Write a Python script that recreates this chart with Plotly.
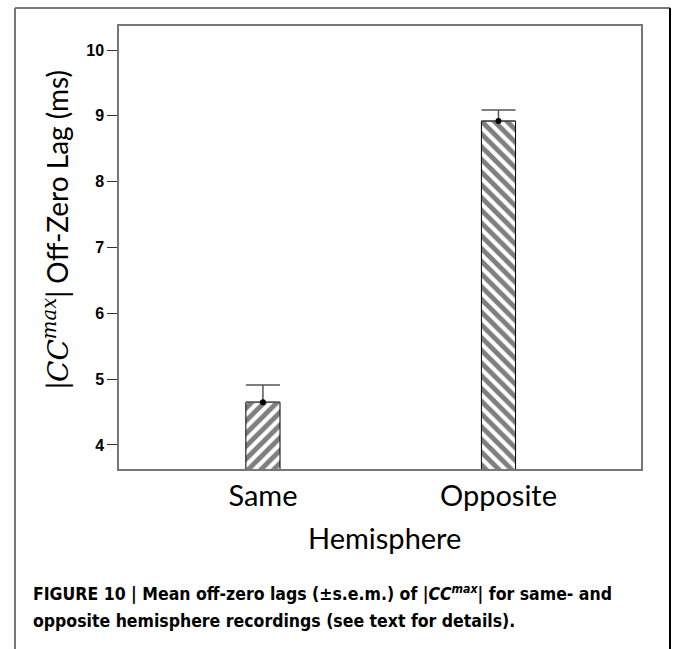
import plotly.graph_objects as go

categories = ["Same", "Opposite"]
x_pos = [0, 1]
means = [4.65, 8.92]
sem = [0.26, 0.17]
patterns = ["/", "\\"]
y_ticks = [4, 5, 6, 7, 8, 9, 10]

W, H = 673, 649
L, R, T, B = 119, 641, 26, 469
pw, ph = R - L, B - T

def px(x):
    return (x - L) / pw

def py(y):
    return (B - y) / ph

fig = go.Figure()
fig.add_trace(go.Bar(
    x=x_pos, y=means, width=0.145,
    marker=dict(color="white", line=dict(color="black", width=1),
                pattern=dict(shape=patterns, fgcolor="black", bgcolor="white",
                             size=9, solidity=0.55)),
    error_y=dict(type="data", symmetric=False, array=sem, arrayminus=[0, 0],
                 color="#555555", thickness=1.5, width=17),
    showlegend=False, hoverinfo="skip",
))
fig.add_trace(go.Scatter(
    x=x_pos, y=means, mode="markers",
    marker=dict(color="black", size=6), showlegend=False, hoverinfo="skip",
))

fig.update_layout(
    width=W, height=H, margin=dict(l=L, r=W - R, t=T, b=H - B),
    paper_bgcolor="white", plot_bgcolor="white",
    xaxis=dict(range=[-0.611, 1.605], tickvals=x_pos, ticktext=categories,
               showgrid=False, zeroline=False, showline=True, mirror=True,
               linecolor="#777777", linewidth=1.5, ticks="",
               tickfont=dict(family="Lato", size=29, color="black")),
    yaxis=dict(range=[3.635, 10.365], tickvals=y_ticks,
               showgrid=False, zeroline=False, showline=True, mirror=True,
               linecolor="#777777", linewidth=1.5, ticks="outside", ticklen=10,
               tickcolor="#333333", tickwidth=1.2,
               tickfont=dict(family="Liberation Sans", size=16, color="black",
                             weight="bold")),
)

fig.add_annotation(
    x=px(384), y=py(537), xref="paper", yref="paper", showarrow=False,
    xanchor="center", yanchor="middle",
    text="Hemisphere", font=dict(family="Lato", size=29, color="black"),
)
fig.add_annotation(
    x=px(56), y=py(230), xref="paper", yref="paper", showarrow=False,
    xanchor="center", yanchor="middle", textangle=-90,
    text='|<span style="font-family:DejaVu Serif"><i>CC</i><sup><i>max</i></sup></span>| Off-Zero Lag (ms)',
    font=dict(family="Lato", size=28, color="black"),
)
cap_font = dict(family="DejaVu Sans Condensed, Roboto, Liberation Sans", size=17.5,
                color="black", weight="bold")
fig.add_annotation(
    x=px(31), y=py(593), xref="paper", yref="paper", showarrow=False,
    xanchor="left", yanchor="middle", align="left",
    text="FIGURE 10 | Mean off-zero lags (±s.e.m.) of |<i>CC<sup>max</sup></i>| for same- and",
    font=cap_font,
)
fig.add_annotation(
    x=px(31), y=py(621), xref="paper", yref="paper", showarrow=False,
    xanchor="left", yanchor="middle", align="left",
    text="opposite hemisphere recordings (see text for details).",
    font=cap_font,
)

# outer frame
fig.add_shape(type="line", xref="paper", yref="paper",
              x0=px(15), x1=px(15), y0=py(8), y1=py(649), line=dict(color="#777777", width=2))
fig.add_shape(type="line", xref="paper", yref="paper",
              x0=px(15), x1=px(670), y0=py(8), y1=py(8), line=dict(color="#777777", width=2))
fig.add_shape(type="line", xref="paper", yref="paper",
              x0=px(670), x1=px(670), y0=py(8), y1=py(649), line=dict(color="black", width=2))

fig.write_html("out.html")
